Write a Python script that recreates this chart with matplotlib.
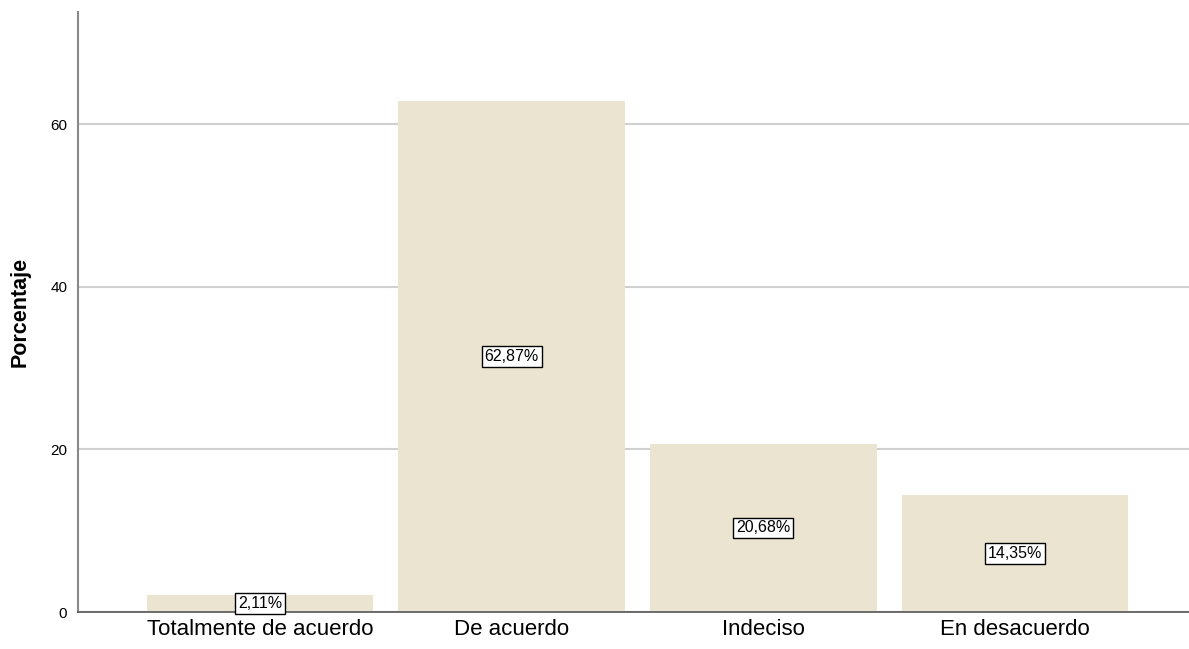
import matplotlib
matplotlib.use('Agg')
from matplotlib import pyplot as plt

categories = ['Totalmente de acuerdo', 'De acuerdo', 'Indeciso', 'En desacuerdo']
percentages = [2.11, 62.87, 20.68, 14.35]
yticks = [0, 20, 40, 60]

plt.rcParams['font.family'] = ['Liberation Sans', 'DejaVu Sans']

fig = plt.figure(figsize=(11.89, 6.49), dpi=100)
ax = fig.add_axes([0.066, 0.057, 0.934, 0.9245])

x = range(len(categories))
ax.bar(x, percentages, width=0.9, color='#ebe4d0', zorder=2)

for i, v in enumerate(percentages):
    label = '{:.2f}%'.format(v).replace('.', ',')
    ax.text(i, v / 2, label, ha='center', va='center', fontsize=11.5, zorder=3,
            bbox=dict(boxstyle='square,pad=0.18', fc='white', ec='black', lw=1))

ax.set_xlim(-0.722, 3.692)
ax.set_ylim(0, 73.8)
ax.set_yticks(yticks)
ax.set_xticks(list(x))
ax.set_xticklabels(categories, fontsize=16)
ax.tick_params(axis='y', labelsize=11, length=0, pad=8)
ax.tick_params(axis='x', length=0, pad=5)
ax.yaxis.grid(True, color='#d0d0d0', lw=1.5, zorder=0)
ax.set_ylabel('Porcentaje', fontsize=15.5, fontweight='bold', labelpad=14)

for s in ['top', 'right']:
    ax.spines[s].set_visible(False)
ax.spines['left'].set_color('#888888')
ax.spines['bottom'].set_color('#555555')
ax.spines['left'].set_linewidth(1.5)
ax.spines['bottom'].set_linewidth(1.2)

fig.savefig('out.png', dpi=100)
